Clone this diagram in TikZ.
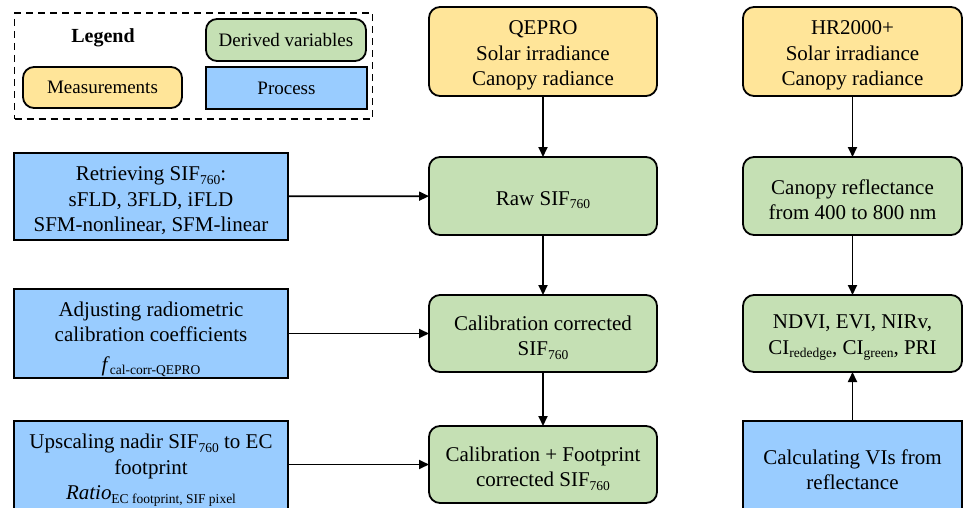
\documentclass[tikz,border=0pt]{standalone}
\usepackage{fontspec}
\setmainfont{Liberation Serif}
\usetikzlibrary{arrows.meta}
\definecolor{measY}{RGB}{255,229,153}
\definecolor{derG}{RGB}{197,224,180}
\definecolor{procB}{RGB}{153,204,255}
\newcommand\mysub[1]{\raisebox{-0.35ex}{\fontsize{13.5}{14}\selectfont #1}}
\newcommand\tup[1][22.5pt]{\rule{0pt}{#1}}
\tikzset{
  base/.style={draw=black, line width=1.8pt, inner sep=0pt, outer sep=0pt, align=center},
  bigtext/.style={font=\fontsize{21}{25.5}\selectfont},
  legtext/.style={font=\fontsize{19}{22}\selectfont},
  measfill/.style={fill=measY, rounded corners=11pt},
  derivfill/.style={fill=derG, rounded corners=11pt},
  procfill/.style={fill=procB},
  meas/.style={base, bigtext, measfill},
  deriv/.style={base, bigtext, derivfill},
  proc/.style={base, bigtext, procfill},
  conn/.style={line width=1.8pt, -{Triangle[length=10pt,width=9pt]}},
}
\begin{document}
\begin{tikzpicture}[x=1pt,y=-1pt]
\useasboundingbox (0,0) rectangle (963,508);
\clip (0,0) rectangle (963,508);
% legend
\node (legbox) [draw=black, line width=1.5pt, dash pattern=on 7pt off 5pt, minimum width=358pt, minimum height=106pt, inner sep=0pt] at (193.5,66) {};
\node (legtitle) [font=\fontsize{20}{22}\selectfont\bfseries] at (103,38) {Legend};
\node (legD) [base, legtext, derivfill, minimum width=160pt, minimum height=42pt] at (286,40) {Derived variables};
\node (legM) [base, legtext, measfill, minimum width=159pt, minimum height=41pt] at (102.5,87.5) {Measurements};
\node (legP) [base, legtext, procfill, minimum width=161pt, minimum height=42pt] at (286.5,88) {Process};
% middle column
\node (qepro) [meas, minimum width=228pt, minimum height=89pt] at (543,51.5) {\tup QEPRO\\Solar irradiance\\Canopy radiance};
\node (raw) [deriv, minimum width=228pt, minimum height=78pt] at (543,196) {\tup Raw SIF\mysub{760}};
\node (cal) [deriv, minimum width=228pt, minimum height=77pt] at (543,333.5) {\tup Calibration corrected\\SIF\mysub{760}};
\node (cf) [deriv, minimum width=228pt, minimum height=77pt] at (543,464.5) {\tup Calibration + Footprint\\corrected SIF\mysub{760}};
% right column
\node (hr) [meas, minimum width=219pt, minimum height=89pt] at (852.5,51.5) {\tup HR2000+\\Solar irradiance\\Canopy radiance};
\node (refl) [deriv, minimum width=219pt, minimum height=78pt] at (852.5,196) {\tup Canopy reflectance\\from 400 to 800 nm};
\node (vis) [deriv, minimum width=219pt, minimum height=77pt] at (852.5,333.5) {\tup NDVI, EVI, NIRv,\\CI\mysub{rededge}, CI\mysub{green}, PRI};
\node (calc) [proc, minimum width=219pt, minimum height=90pt] at (852.5,466) {\tup Calculating VIs from\\reflectance};
% left column
\node (retr) [proc, minimum width=274pt, minimum height=87pt] at (151,196.5) {\tup Retrieving SIF\mysub{760}:\\sFLD, 3FLD, iFLD\\SFM-nonlinear, SFM-linear};
\node (adj) [proc, minimum width=274pt, minimum height=89pt] at (151,333.5) {\tup[26.5pt]Adjusting radiometric\\calibration coefficients\\[4pt]\textit{f}\mysub{cal-corr-QEPRO}};
\node (up) [proc, minimum width=274pt, minimum height=90pt] at (151,466) {\tup Upscaling nadir SIF\mysub{760} to EC\\footprint\\\textit{Ratio}\mysub{EC footprint, SIF pixel}};
% connectors
\draw[conn] (qepro) -- (raw);
\draw[conn] (raw) -- (cal);
\draw[conn] (cal) -- (cf);
\draw[conn] (hr) -- (refl);
\draw[conn] (refl) -- (vis);
\draw[conn] (calc) -- (vis);
\draw[conn] (retr) -- (raw);
\draw[conn] (adj) -- (cal);
\draw[conn] (up.east |- cf.west) -- (cf.west);
\end{tikzpicture}
\end{document}
